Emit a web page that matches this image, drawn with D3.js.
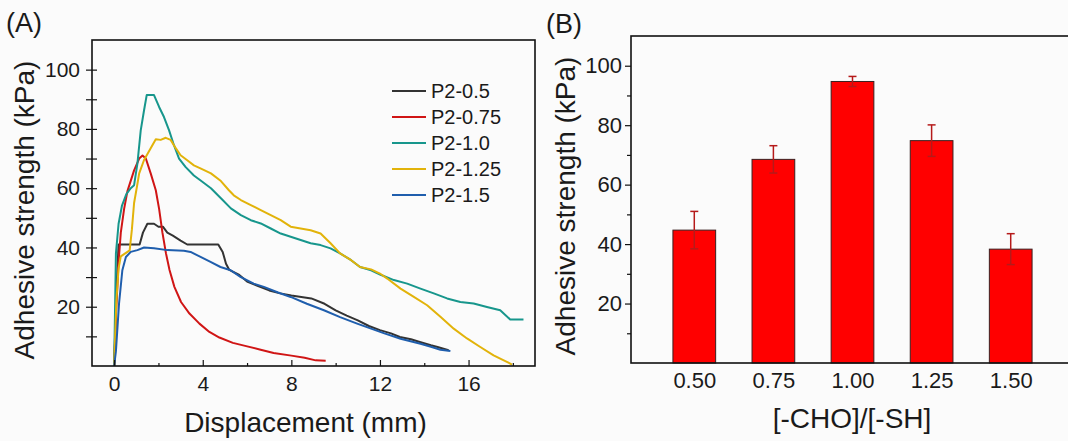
<!DOCTYPE html>
<html><head><meta charset="utf-8">
<script src="https://cdn.jsdelivr.net/npm/d3@7"></script>
<style>
html,body{margin:0;padding:0;background:#fbfbfb;}
text{font-family:Arial,"Liberation Sans",sans-serif;fill:#1a1a1a;}
</style></head>
<body>
<svg id="chart" width="1068" height="441"></svg>
<script>
// ---------- Panel A data ----------
const seriesNames = ["P2-0.5","P2-0.75","P2-1.0","P2-1.25","P2-1.5"];
const seriesColors = ["#333333","#d01515","#17968c","#e2b30a","#1f5ead"];
const p2_05 = [[0,0],[0.1,25],[0.2,41],[0.5,41],[1.15,41],[1.3,45],[1.5,48],[1.8,48],[2.0,47],[2.2,47],[2.4,45],[2.65,44],[3.0,42.3],[3.3,41],[4.7,41],[4.9,38.5],[5.05,34.5],[5.2,32.4],[5.65,30.7],[6.0,28.5],[6.5,27],[7.0,25.5],[7.5,24.5],[8.0,23.8],[8.9,22.8],[9.5,21],[10.0,18.8],[10.5,17],[11.0,15.4],[11.5,13.5],[12.0,12.1],[12.5,11],[12.9,9.8],[13.4,9],[13.8,8.1],[14.3,7],[14.6,6.4],[15.1,5.3]];
const p2_075 = [[0,0],[0.1,20],[0.2,35],[0.3,45],[0.45,53],[0.6,59],[0.9,66],[1.13,70],[1.28,71],[1.43,70],[1.65,65],[1.88,59.3],[2.03,53],[2.18,45],[2.34,38],[2.5,32.4],[2.72,26.7],[3.02,21.6],[3.4,17.7],[3.85,14.3],[4.3,11.5],[4.75,9.6],[5.36,7.8],[5.96,6.7],[6.57,5.6],[7.2,4.4],[8.0,3.5],[8.6,2.8],[9.1,1.9],[9.55,1.8]];
const p2_10 = [[0,0],[0.08,38],[0.2,48],[0.35,54],[0.55,58],[0.75,60],[0.9,61],[1.05,68.3],[1.2,79.5],[1.35,86.3],[1.47,91.4],[1.8,91.4],[2.03,87.4],[2.25,84],[2.48,79.5],[2.7,74.5],[2.93,70],[3.23,67.1],[3.6,64.3],[3.92,62.5],[4.37,60],[4.82,56.6],[5.27,53.2],[5.72,50.9],[6.17,49.2],[6.62,48.1],[7.07,46.4],[7.52,44.7],[7.97,43.6],[8.42,42.5],[8.87,41.4],[9.32,40.8],[9.77,39.7],[10.2,38],[10.7,35.7],[11.1,33.4],[11.6,32.3],[12.03,30.8],[12.63,29],[13.23,27.8],[13.83,26.1],[14.43,24.5],[15.03,22.8],[15.63,21.6],[16.23,21.1],[16.83,19.9],[17.43,18.8],[17.88,15.7],[18.48,15.7]];
const p2_125 = [[0,0],[0.1,22],[0.2,33],[0.3,37],[0.5,38],[0.7,39],[0.8,46],[0.9,55],[1.04,61],[1.13,65],[1.35,69.5],[1.65,73.5],[1.88,76.5],[2.1,76.3],[2.33,77],[2.55,76.3],[2.78,73.5],[3.0,71.1],[3.3,69.4],[3.6,67.7],[3.92,66.6],[4.37,65],[4.82,62.4],[5.18,59.3],[5.4,57.6],[5.72,56],[6.17,54.3],[6.62,52.6],[7.07,50.9],[7.52,49.2],[7.97,47],[8.42,46.4],[8.87,45.8],[9.32,44.7],[9.77,41.4],[10.2,38],[10.7,35.7],[11.1,33.4],[11.6,32.6],[12.0,31.2],[12.33,29.5],[12.93,26.1],[13.53,23.3],[14.13,20.5],[14.73,16.6],[15.33,12.6],[15.93,9.3],[16.53,6.4],[17.13,3.6],[17.73,1.4],[17.96,0.5]];
const p2_15 = [[0,0],[0.08,5],[0.22,21],[0.37,32.3],[0.53,36.8],[0.75,38.5],[1.05,39.1],[1.35,40],[1.8,39.7],[2.4,39.1],[3.15,38.9],[3.45,38.5],[3.9,36.8],[4.35,35.1],[4.8,33.4],[5.26,32.3],[5.7,30.1],[6.3,27.8],[6.76,26.7],[7.4,24.8],[7.97,23.3],[8.7,21],[9.47,18.8],[10.2,16.5],[10.97,14.3],[11.6,12.6],[12.2,11],[12.93,9.2],[13.83,7.5],[14.3,6.5],[14.73,5.5],[15.18,5.1]];
const seriesData = [p2_05, p2_075, p2_10, p2_125, p2_15];
const xTicksA = [0,4,8,12,16];
const xMinorA = [2,6,10,14,18];
const yTicks = [20,40,60,80,100];
const yMinor = [10,30,50,70,90];

// ---------- Panel B data ----------
const ratios = ["0.50","0.75","1.00","1.25","1.50"];
const ratioValues = [0.50,0.75,1.00,1.25,1.50];
const strength = [44.7,68.5,94.7,74.8,38.3];
const strengthErr = [6.3,4.6,1.7,5.3,5.2];

const svg = d3.select("#chart");
svg.append("rect").attr("width",1068).attr("height",441).attr("fill","#fbfbfb");

// ================= Panel A =================
const A = {l:92, r:535, t:40, b:366};
const xA = d3.scaleLinear().domain([-1,19]).range([A.l,A.r]);
const yA = d3.scaleLinear().domain([0,110]).range([A.b,A.t]);
const gA = svg.append("g");

const line = d3.line().x(d=>xA(d[0])).y(d=>yA(d[1]));
seriesData.forEach((s,i)=>{
  gA.append("path").datum(s).attr("d",line).attr("fill","none")
    .attr("stroke",seriesColors[i]).attr("stroke-width",2).attr("stroke-linejoin","round");
});

const axXA = gA.append("g").attr("transform",`translate(0,${A.b})`)
  .call(d3.axisBottom(xA).tickValues(xTicksA).tickSize(-6).tickPadding(10).tickFormat(d3.format("d")));
axXA.select(".domain").remove();
axXA.selectAll(".tick line").attr("stroke","#111").attr("stroke-width",1.2);
axXA.selectAll("text").attr("font-size",21).attr("fill","#1a1a1a").attr("dy","0.71em");
gA.append("g").attr("transform",`translate(0,${A.b})`)
  .call(d3.axisBottom(xA).tickValues(xMinorA).tickSize(-3).tickFormat(""))
  .call(g=>g.select(".domain").remove())
  .selectAll(".tick line").attr("stroke","#111").attr("stroke-width",1.2);

const axYA = gA.append("g").attr("transform",`translate(${A.l},0)`)
  .call(d3.axisLeft(yA).tickValues(yTicks).tickSize(6).tickPadding(6).tickFormat(d3.format("d")));
axYA.select(".domain").remove();
axYA.selectAll(".tick line").attr("x2",-6).attr("x1",5).attr("stroke","#111").attr("stroke-width",1.2);
axYA.selectAll("text").attr("font-size",21).attr("fill","#1a1a1a");
const axYAm = gA.append("g").attr("transform",`translate(${A.l},0)`)
  .call(d3.axisLeft(yA).tickValues(yMinor).tickSize(6).tickFormat(""));
axYAm.select(".domain").remove();
axYAm.selectAll(".tick line").attr("x2",-6).attr("x1",5).attr("stroke","#111").attr("stroke-width",1.2);

gA.append("rect").attr("x",A.l).attr("y",A.t).attr("width",A.r-A.l).attr("height",A.b-A.t)
  .attr("fill","none").attr("stroke","#111").attr("stroke-width",1.6);

const leg = gA.append("g");
seriesNames.forEach((n,i)=>{
  const yy = 91 + i*26;
  leg.append("line").attr("x1",392).attr("x2",426).attr("y1",yy).attr("y2",yy)
    .attr("stroke",seriesColors[i]).attr("stroke-width",2);
  leg.append("text").attr("x",431).attr("y",yy).attr("dy","0.35em").attr("font-size",20).text(n);
});

gA.append("text").attr("x",(A.l+A.r)/2 - 8).attr("y",432).attr("text-anchor","middle")
  .attr("font-size",28).text("Displacement (mm)");
gA.append("text").attr("transform",`translate(34,210) rotate(-90)`).attr("text-anchor","middle")
  .attr("font-size",28).text("Adhesive strength (kPa)");
gA.append("text").attr("x",6).attr("y",32).attr("font-size",27).text("(A)");

// ================= Panel B =================
const B = {l:631, r:1074, t:36, b:363};
const xB = d3.scaleLinear().domain([0.3,1.7]).range([B.l,B.r]);
const yB = d3.scaleLinear().domain([0,110]).range([B.b,B.t]);
const gB = svg.append("g");
const barW = xB(0.3+0.135) - xB(0.3);

gB.selectAll("rect.bar").data(ratioValues).join("rect").attr("class","bar")
  .attr("x",(d)=>xB(d)-barW/2).attr("width",barW)
  .attr("y",(d,i)=>yB(strength[i])).attr("height",(d,i)=>yB(0)-yB(strength[i]))
  .attr("fill","#ff0000").attr("stroke","#3a2020").attr("stroke-width",1);

ratioValues.forEach((d,i)=>{
  const cx = xB(d);
  const y1 = yB(strength[i]+strengthErr[i]), y2 = yB(strength[i]-strengthErr[i]);
  gB.append("line").attr("x1",cx).attr("x2",cx).attr("y1",y1).attr("y2",y2)
    .attr("stroke","#b51a1a").attr("stroke-width",1.5);
  [y1,y2].forEach(yy=>gB.append("line").attr("x1",cx-4).attr("x2",cx+4).attr("y1",yy).attr("y2",yy)
    .attr("stroke","#b51a1a").attr("stroke-width",1.5));
});

const axXB = gB.append("g").attr("transform",`translate(0,${B.b})`)
  .call(d3.axisBottom(xB).tickValues(ratioValues).tickSize(0).tickPadding(9).tickFormat((d,i)=>ratios[i]));
axXB.select(".domain").remove();
axXB.selectAll("text").attr("font-size",22).attr("fill","#1a1a1a").attr("dy","0.71em");

const axYB = gB.append("g").attr("transform",`translate(${B.l},0)`)
  .call(d3.axisLeft(yB).tickValues(yTicks).tickSize(6).tickPadding(3).tickFormat(d3.format("d")));
axYB.select(".domain").remove();
axYB.selectAll(".tick line").attr("stroke","#111").attr("stroke-width",1.2);
axYB.selectAll("text").attr("font-size",22).attr("fill","#1a1a1a");
const axYBm = gB.append("g").attr("transform",`translate(${B.l},0)`)
  .call(d3.axisLeft(yB).tickValues(yMinor).tickSize(4).tickFormat(""));
axYBm.select(".domain").remove();
axYBm.selectAll(".tick line").attr("stroke","#111").attr("stroke-width",1.2);

gB.append("rect").attr("x",B.l).attr("y",B.t).attr("width",B.r-B.l).attr("height",B.b-B.t)
  .attr("fill","none").attr("stroke","#111").attr("stroke-width",1.6);

gB.append("text").attr("x",852).attr("y",428).attr("text-anchor","middle")
  .attr("font-size",28).text("[-CHO]/[-SH]");
gB.append("text").attr("transform",`translate(575,206) rotate(-90)`).attr("text-anchor","middle")
  .attr("font-size",28).text("Adhesive strength (kPa)");
gB.append("text").attr("x",546).attr("y",33).attr("font-size",27).text("(B)");
</script>
</body></html>
